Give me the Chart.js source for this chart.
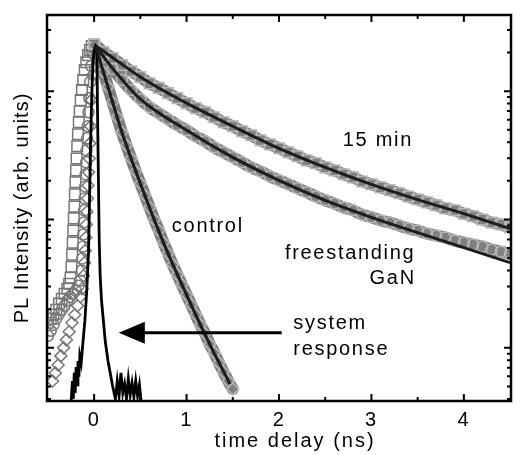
<!DOCTYPE html>
<html>
<head>
<meta charset="utf-8">
<script src="https://cdn.jsdelivr.net/npm/chart.js@4.4.0/dist/chart.umd.min.js"></script>
<style>
  body { margin: 0; background: #fff; }
  #wrap { width: 520px; height: 455px; }
</style>
</head>
<body>
<div id="wrap"><canvas id="plChart"></canvas></div>
<script>
// axis
const xTickValues = [0, 1, 2, 3, 4];
const xTickLabels = ["0", "1", "2", "3", "4"];
const yMin = 0.3855;
const yMax = 392;

// 15 min (squares)
const min15RiseT = [-0.50, -0.47, -0.44, -0.41, -0.38, -0.35, -0.32, -0.29, -0.27, -0.255, -0.245, -0.238, -0.232, -0.226, -0.22, -0.214, -0.208, -0.202, -0.196, -0.19, -0.183, -0.175, -0.166, -0.156, -0.145, -0.132, -0.118, -0.102, -0.085, -0.065, -0.045, -0.025];
const min15RiseI = [1.57, 1.69, 1.81, 1.98, 2.21, 2.41, 2.64, 2.89, 3.16, 3.52, 4.29, 5.33, 6.61, 8.21, 10.2, 12.6, 15.7, 19.5, 24.1, 29.9, 37.2, 46.1, 57.2, 69.8, 85.1, 102, 122, 146, 168, 191, 209, 225];

const decayT = [0, 0.1, 0.2, 0.3, 0.4, 0.5, 0.6, 0.7, 0.8, 0.9, 1.0, 1.1, 1.2, 1.3, 1.4, 1.5, 1.6, 1.7, 1.8, 1.9, 2.0, 2.1, 2.2, 2.3, 2.4, 2.5, 2.6, 2.7, 2.8, 2.9, 3.0, 3.1, 3.2, 3.3, 3.4, 3.5, 3.6, 3.7, 3.8, 3.9, 4.0, 4.1, 4.2, 4.3, 4.4, 4.5];
const min15DecayI = [233, 202, 181, 160, 143, 129, 115, 106, 96.5, 88.2, 80.6, 73.7, 68.5, 62.6, 57.2, 53.3, 48.7, 45.3, 41.4, 38.5, 35.9, 33.4, 31.1, 28.9, 27.4, 25.5, 24.1, 22.5, 21.3, 19.8, 18.8, 17.8, 16.9, 16.0, 15.1, 14.3, 13.6, 12.9, 12.2, 11.8, 11.1, 10.6, 10.0, 9.48, 9.14, 8.66];

// freestanding GaN (circles)
const freeRiseT = [-0.50, -0.47, -0.44, -0.41, -0.38, -0.35, -0.32, -0.29, -0.26, -0.23, -0.20, -0.17, -0.15, -0.135, -0.128, -0.122, -0.117, -0.112, -0.107, -0.102, -0.097, -0.092, -0.087, -0.082, -0.076, -0.069, -0.061, -0.052, -0.042, -0.031, -0.018];
const freeRiseI = [1.24, 1.36, 1.51, 1.69, 1.84, 1.98, 2.13, 2.33, 2.50, 2.64, 2.79, 3.05, 3.34, 4.00, 4.96, 6.15, 7.64, 9.48, 11.8, 14.6, 18.1, 22.5, 27.9, 34.6, 42.9, 53.3, 68.5, 88.2, 118, 157, 198];
const freeDecayI = [229, 184, 149, 122, 102, 86.6, 75.0, 67.3, 60.4, 54.3, 49.6, 44.5, 40.7, 36.5, 33.4, 30.5, 27.9, 25.5, 23.7, 21.7, 20.2, 18.8, 17.5, 16.3, 15.1, 14.1, 13.3, 12.4, 11.8, 10.9, 10.4, 9.82, 9.48, 8.98, 8.50, 8.21, 7.77, 7.50, 7.23, 6.85, 6.61, 6.38, 6.15, 5.83, 5.62, 5.43];

// control (diamonds)
const ctlRiseT = [-0.45, -0.42, -0.39, -0.36, -0.33, -0.30, -0.27, -0.24, -0.21, -0.18, -0.15, -0.13, -0.115, -0.105, -0.097, -0.09, -0.084, -0.078, -0.072, -0.066, -0.06, -0.053, -0.046, -0.038, -0.029, -0.018, -0.008];
const ctlRiseI = [0.552, 0.638, 0.736, 0.866, 1.00, 1.155, 1.334, 1.57, 1.81, 2.13, 2.50, 2.89, 3.65, 4.61, 5.72, 7.23, 9.14, 11.5, 14.6, 18.4, 23.3, 29.9, 39.2, 53.3, 85.1, 133, 191];
const ctlDecayT = [0, 0.05, 0.1, 0.15, 0.2, 0.25, 0.3, 0.35, 0.4, 0.45, 0.5, 0.55, 0.6, 0.65, 0.7, 0.75, 0.8, 0.85, 0.9, 0.95, 1.0, 1.05, 1.1, 1.15, 1.2, 1.25, 1.3, 1.35, 1.4, 1.45, 1.5];
const ctlDecayI = [229, 181, 141, 108, 82.0, 62.6, 47.8, 37.8, 29.9, 23.7, 19.1, 15.4, 12.4, 10.0, 8.21, 6.61, 5.43, 4.45, 3.72, 3.10, 2.59, 2.17, 1.81, 1.51, 1.29, 1.07, 0.914, 0.764, 0.649, 0.552, 0.478];

// fits
const fitT = [0.02, 0.25, 0.5, 1, 1.5, 2, 2.5, 3, 3.5, 4, 4.5];
const fit15 = [225, 172, 129, 80.6, 53.3, 35.9, 25.5, 18.8, 14.3, 11.1, 8.5];
const fitFree = [221, 136, 86.6, 49.6, 30.5, 20.2, 14.1, 10.4, 7.91, 6.04, 4.61];
const fitCtlT = [0.02, 0.1, 0.2, 0.3, 0.5, 0.75, 1.0, 1.25, 1.47];
const fitCtl = [221, 141, 82.0, 47.8, 19.1, 6.61, 2.59, 1.07, 0.523];

// system response
const sysT = [-0.25, -0.235, -0.225, -0.215, -0.205, -0.195, -0.185, -0.175, -0.165, -0.155, -0.14, -0.12, -0.1, -0.08, -0.06, -0.05, -0.04, -0.03, -0.02, -0.01, 0, 0.015, 0.03, 0.035, 0.045, 0.055, 0.065, 0.08, 0.1, 0.12, 0.15, 0.18, 0.2, 0.23, 0.25, 0.27, 0.29, 0.31, 0.33, 0.35, 0.37, 0.39, 0.41, 0.43, 0.45, 0.47, 0.49, 0.51];
const sysI = [0.372, 0.552, 0.40, 0.638, 0.445, 0.710, 0.514, 0.791, 0.593, 0.866, 0.764, 1.13, 1.63, 2.79, 5.72, 14.1, 34.6, 71.0, 122, 175, 209, 225, 217, 85.1, 24.1, 6.85, 3.65, 2.33, 1.63, 1.13, 0.791, 0.604, 0.505, 0.40, 0.552, 0.422, 0.638, 0.445, 0.523, 0.40, 0.573, 0.429, 0.533, 0.414, 0.552, 0.422, 0.515, 0.372];

const pts = (t, v) => t.map((x, i) => ({ x: x, y: v[i] }));

const FONT = '"Liberation Sans", Arial, sans-serif';
const bandGray = "#808080";

const markerSet = (label, style, r, t, v) => ({
  label: label,
  data: pts(t, v),
  showLine: false,
  pointStyle: style,
  pointRadius: r,
  pointHoverRadius: r,
  pointBorderWidth: 1.5,
  pointBackgroundColor: "rgba(255,255,255,0)",
  pointBorderColor: (c) => (c.raw && c.raw.x < 0 ? "#777777" : "#b8b8b8"),
  order: 3,
});

const bandSet = (t, v) => ({
  data: pts(t, v),
  borderColor: bandGray,
  borderWidth: 12,
  pointRadius: 0,
  tension: 0.3,
  borderJoinStyle: "round",
  borderCapStyle: "round",
  order: 4,
});

const fitSet = (t, v) => ({
  data: pts(t, v),
  borderColor: "#1c1c1c",
  borderWidth: 3,
  pointRadius: 0,
  cubicInterpolationMode: "monotone",
  order: 1,
});

const decor = {
  id: "decor",
  beforeDraw(chart) {
    chart.ctx.letterSpacing = "1.5px";
  },
  afterDraw(chart) {
    const { ctx, chartArea: a, scales: { x, y } } = chart;
    ctx.save();
    ctx.strokeStyle = "#000";
    ctx.lineWidth = 2;
    // inward ticks on all four sides
    [0, 0.5, 1, 1.5, 2, 2.5, 3, 3.5, 4].forEach((v) => {
      const px = x.getPixelForValue(v);
      const len = Number.isInteger(v) ? 7 : 4;
      ctx.beginPath();
      ctx.moveTo(px, a.bottom); ctx.lineTo(px, a.bottom - len);
      ctx.moveTo(px, a.top); ctx.lineTo(px, a.top + len);
      ctx.stroke();
    });
    for (let e = -1; e <= 2; e++) {
      for (let k = 1; k <= 9; k++) {
        const v = k * Math.pow(10, e);
        if (v <= yMin || v >= yMax) continue;
        const py = y.getPixelForValue(v);
        const len = k === 1 ? 7 : 4;
        ctx.beginPath();
        ctx.moveTo(a.left, py); ctx.lineTo(a.left + len, py);
        ctx.moveTo(a.right, py); ctx.lineTo(a.right - len, py);
        ctx.stroke();
      }
    }
    ctx.lineWidth = 2.5;
    ctx.strokeRect(a.left, a.top, a.right - a.left, a.bottom - a.top);

    ctx.fillStyle = "#000";
    ctx.textBaseline = "middle";

    // axis titles
    ctx.font = "20px " + FONT;
    ctx.letterSpacing = "2px";
    ctx.textAlign = "center";
    ctx.fillText("time delay (ns)", 295, 441);
    ctx.letterSpacing = "1px";
    ctx.save();
    ctx.translate(22, (a.top + a.bottom) / 2);
    ctx.rotate(-Math.PI / 2);
    ctx.fillText("PL Intensity (arb. units)", 0, 0);
    ctx.restore();

    // curve labels
    ctx.letterSpacing = "1.7px";
    const txt = (s, t, v, align) => {
      ctx.textAlign = align;
      ctx.fillText(s, x.getPixelForValue(t), y.getPixelForValue(v));
    };
    txt("15 min", 3.07, 41.4, "center");
    txt("control", 1.23, 8.8, "center");
    txt("freestanding", 2.77, 5.42, "center");
    txt("GaN", 3.23, 3.46, "center");
    txt("system", 2.155, 1.54, "left");
    txt("response", 2.155, 0.98, "left");

    // arrow to system response
    const ay = y.getPixelForValue(1.31);
    const tipX = x.getPixelForValue(0.267);
    const tailX = x.getPixelForValue(2.03);
    ctx.lineWidth = 3;
    ctx.beginPath();
    ctx.moveTo(tailX, ay); ctx.lineTo(tipX + 20, ay);
    ctx.stroke();
    ctx.beginPath();
    ctx.moveTo(tipX, ay);
    ctx.lineTo(tipX + 26, ay - 11);
    ctx.lineTo(tipX + 26, ay + 11);
    ctx.closePath();
    ctx.fill();
    ctx.restore();
  },
};

new Chart(document.getElementById("plChart"), {
  type: "line",
  data: {
    datasets: [
      fitSet(fitT, fit15),
      fitSet(fitT, fitFree),
      fitSet(fitCtlT, fitCtl),
      {
        label: "system response",
        data: pts(sysT, sysI),
        borderColor: "#000",
        borderWidth: 2.8,
        pointRadius: 0,
        tension: 0,
        order: 2,
      },
      markerSet("15 min", "rect", 7.5, min15RiseT.concat(decayT), min15RiseI.concat(min15DecayI)),
      markerSet("freestanding GaN", "circle", 5.5, freeRiseT.concat(decayT), freeRiseI.concat(freeDecayI)),
      markerSet("control", "rectRot", 6, ctlRiseT.concat(ctlDecayT), ctlRiseI.concat(ctlDecayI)),
      bandSet(decayT, min15DecayI),
      bandSet(decayT, freeDecayI),
      bandSet(ctlDecayT, ctlDecayI),
    ],
  },
  options: {
    responsive: true,
    maintainAspectRatio: false,
    animation: false,
    events: [],
    layout: { padding: { left: 47, right: 2, top: 15, bottom: 16 } },
    plugins: { legend: { display: false }, tooltip: { enabled: false } },
    scales: {
      x: {
        type: "linear",
        min: -0.51,
        max: 4.51,
        afterBuildTicks: (s) => { s.ticks = xTickValues.map((v) => ({ value: v })); },
        ticks: {
          callback: (v) => xTickLabels[xTickValues.indexOf(v)],
          color: "#000",
          font: { family: FONT, size: 20 },
          padding: 7,
          maxRotation: 0,
          autoSkip: false,
        },
        grid: { display: false, drawTicks: false },
        border: { display: false },
      },
      y: {
        type: "logarithmic",
        min: yMin,
        max: yMax,
        ticks: { display: false },
        grid: { display: false, drawTicks: false },
        border: { display: false },
      },
    },
  },
  plugins: [decor],
});
</script>
</body>
</html>
